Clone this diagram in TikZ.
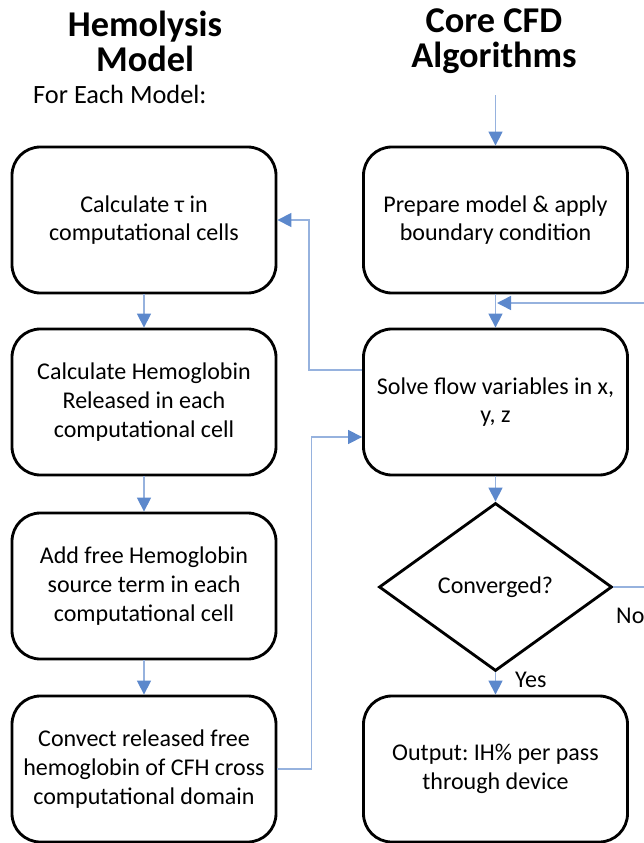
\documentclass[tikz,border=0pt]{standalone}
\usepackage{fontspec}
\setmainfont{Carlito}
\usetikzlibrary{shapes.geometric,arrows.meta}
\definecolor{flowline}{RGB}{150,178,222}
\definecolor{flowhead}{RGB}{92,136,204}
\frenchspacing

\begin{document}
\begin{tikzpicture}[x=0.03cm, y=-0.03cm,
	procbox/.style={draw, line width=0.085cm, rounded corners=0.85cm,
		minimum width=7.92cm, minimum height=4.38cm, inner sep=0pt,
		align=center, font=\fontsize{20.5}{24.5}\selectfont},
	decision/.style={draw, diamond, line width=0.085cm, aspect=1.39,
		minimum width=6.99cm, minimum height=5.04cm, inner sep=0pt,
		font=\fontsize{20.5}{24.5}\selectfont},
	heading/.style={align=center, font=\fontsize{31}{30}\selectfont\bfseries},
	tag/.style={inner sep=0pt, font=\fontsize{20.5}{24.5}\selectfont},
	flow/.style={draw=flowline, line width=0.045cm,
		-{Triangle[length=0.42cm, width=0.42cm, color=flowhead]}}]
	\useasboundingbox (0,0) rectangle (643,843);

	% HEADINGS
	\node[heading] (hleft) at (145,41) {Hemolysis\\Model};
	\node[heading] (hright) at (494,41) {Core CFD\\Algorithms};
	\node[tag, anchor=base west, font=\fontsize{22.5}{27}\selectfont] (each) at (33,104) {For Each Model:};

	% LEFT COLUMN: Hemolysis model
	\node[procbox] (tau) at (144,220) {Calculate τ in\\computational cells};
	\node[procbox] (release) at (144,402) {Calculate Hemoglobin\\Released in each\\computational cell};
	\node[procbox] (source) at (144,586) {Add free Hemoglobin\\source term in each\\computational cell};
	\node[procbox] (convect) at (144,769) {Convect released free\\hemoglobin of CFH cross\\computational domain};

	% RIGHT COLUMN: Core CFD algorithms
	\coordinate (start) at (495.5,95);
	\node[procbox] (prepare) at (495.5,220) {Prepare model \& apply\\boundary condition};
	\node[procbox] (solve) at (495.5,402) {Solve flow variables in x,\\y, z};
	\node[decision] (conv) at (495.5,587) {Converged?};
	\node[procbox] (output) at (495.5,769) {Output: IH\% per pass\\through device};
	\coordinate (rejoin) at (497,303);

	% Labels of the decision
	\node[tag, anchor=base west] (no) at (616,623) {No};
	\node[tag, anchor=base west] (yes) at (515,687) {Yes};

	% Main flow
	\draw[flow] (tau) -- (release);
	\draw[flow] (release) -- (source);
	\draw[flow] (source) -- (convect);
	\draw[flow] (start) -- (prepare);
	\draw[flow] (prepare) -- (solve);
	\draw[flow] (solve) -- (conv);
	\draw[flow] (conv) -- (output);

	% Coupling between the two columns
	\draw[flow] ([yshift=0.96cm]solve.west) -- ++(-53,0) |- (tau.east);
	\draw[flow] (convect.east) -- ++(34,0) |- ([yshift=-1.05cm]solve.west);

	% Loop back when not converged
	\draw[flow] (conv.east) -- ++(40,0) |- (rejoin);
\end{tikzpicture}
\end{document}
